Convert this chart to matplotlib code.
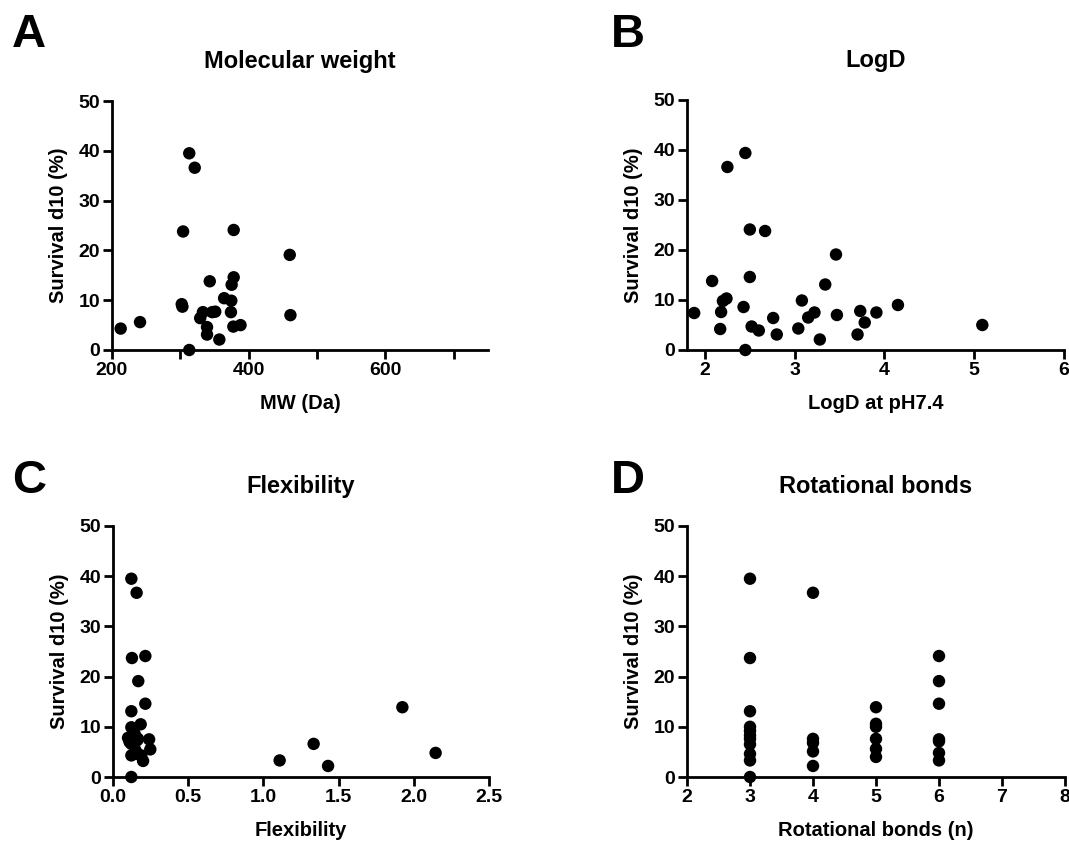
import matplotlib
matplotlib.use("Agg")
import matplotlib.pyplot as plt
from matplotlib.ticker import MultipleLocator

plt.rcParams['font.family'] = ['Liberation Sans', 'DejaVu Sans']
plt.rcParams['font.weight'] = 'bold'

# panel A - molecular weight
mw_x = [212.7, 241, 313, 321, 304, 378, 460, 302, 303, 343, 378, 375, 364, 374.5,
        374, 351, 346.6, 333, 329, 339, 339, 357, 313, 377.5, 388, 461]
mw_y = [4.3, 5.6, 39.5, 36.6, 23.8, 24.1, 19.1, 9.2, 8.7, 13.8, 14.6, 13.1, 10.4, 9.9,
        7.6, 7.7, 7.6, 7.6, 6.4, 4.6, 3.1, 2.1, 0.0, 4.7, 5.0, 7.0]

# panel B - logD
logd_x = [1.88, 2.08, 2.17, 2.18, 2.20, 2.24, 2.25, 2.45, 2.43, 2.45, 2.50, 2.50, 2.52,
          2.60, 2.67, 2.76, 2.80, 3.04, 3.08, 3.15, 3.22, 3.28, 3.34, 3.46, 3.47, 3.70,
          3.73, 3.78, 3.91, 4.15, 5.09]
logd_y = [7.4, 13.8, 4.2, 7.6, 9.8, 10.3, 36.6, 39.4, 8.6, 0.0, 24.1, 14.6, 4.7,
          3.9, 23.8, 6.4, 3.1, 4.3, 9.9, 6.5, 7.5, 2.1, 13.1, 19.1, 7.0, 3.1,
          7.8, 5.5, 7.5, 9.0, 5.0]

# panel C - flexibility
flex_x = [0.122, 0.157, 0.126, 0.215, 0.168, 0.215, 0.122, 0.184, 0.122, 0.10, 0.144,
          0.166, 0.122, 0.24, 0.248, 0.122, 0.15, 0.188, 0.20, 0.122, 0.133, 0.16,
          0.11, 0.16, 1.108, 1.334, 1.43, 1.924, 2.145]
flex_y = [39.5, 36.7, 23.7, 24.1, 19.1, 14.6, 13.1, 10.5, 9.9, 7.8, 8.6,
          7.6, 6.6, 7.5, 5.5, 4.3, 5.3, 4.3, 3.2, 0.0, 8.6, 7.3,
          7.0, 4.6, 3.3, 6.6, 2.2, 13.9, 4.8]

# panel D - rotational bonds
rot_x = [3, 3, 3, 3, 3, 3, 3, 3, 3, 3, 3,
         4, 4, 4, 4, 4,
         5, 5, 5, 5, 5, 5,
         6, 6, 6, 6, 6, 6, 6]
rot_y = [39.5, 23.7, 13.1, 10.0, 9.2, 8.3, 7.6, 6.5, 4.6, 3.3, 0.0,
         36.7, 7.6, 6.8, 5.1, 2.2,
         13.9, 10.6, 10.0, 7.6, 5.6, 4.0,
         24.1, 19.1, 14.6, 7.5, 7.1, 4.8, 3.3]

W, H = 1069, 843
fig = plt.figure(figsize=(W / 100, H / 100), dpi=100)


def make_ax(left, top, right, bottom):
    return fig.add_axes([left / W, 1 - bottom / H, (right - left) / W, (bottom - top) / H])


def style(ax, x, y, xlim, title, xlabel, width_px):
    ax.scatter(x, y, s=80, color='black', edgecolors='none', clip_on=False, zorder=3)
    ax.set_xlim(xlim)
    ax.set_ylim(0, 50)
    ax.yaxis.set_major_locator(MultipleLocator(10))
    for s in ['top', 'right']:
        ax.spines[s].set_visible(False)
    for s in ['left', 'bottom']:
        ax.spines[s].set_linewidth(2)
    ax.tick_params(which='both', direction='out', length=6.5, width=2,
                   labelsize=14, pad=2)
    for lab in ax.get_xticklabels() + ax.get_yticklabels():
        lab.set_fontweight('bold')
    ax.set_title(title, fontsize=17, fontweight='bold', pad=24)
    ax.set_xlabel(xlabel, fontsize=14.5, fontweight='bold')
    ax.set_ylabel('Survival d10 (%)', fontsize=14.5, fontweight='bold')
    ax.yaxis.set_label_coords(-44 / width_px, 0.5)
    ax.xaxis.set_label_coords(0.5, -0.175)


axA = make_ax(112, 101, 488, 350)
style(axA, mw_x, mw_y, (200, 750), 'Molecular weight', 'MW (Da)', 376)
axA.xaxis.set_major_locator(MultipleLocator(200))
axA.xaxis.set_minor_locator(MultipleLocator(100))

axB = make_ax(687, 100, 1064, 350)
style(axB, logd_x, logd_y, (1.8, 6), 'LogD', 'LogD at pH7.4', 377)
axB.set_xticks([2, 3, 4, 5, 6])

axC = make_ax(113, 526, 489, 777)
style(axC, flex_x, flex_y, (0, 2.5), 'Flexibility', 'Flexibility', 376)
axC.xaxis.set_major_locator(MultipleLocator(0.5))
axC.xaxis.set_major_formatter(lambda v, p: f'{v:.1f}')

axD = make_ax(687, 526, 1065, 777)
style(axD, rot_x, rot_y, (2, 8), 'Rotational bonds', 'Rotational bonds (n)', 378)
axD.set_xticks(range(2, 9))

for lab, (px, py) in zip('ABCD', [(12, 47), (611, 47), (12, 493), (611, 493)]):
    fig.text(px / W, 1 - py / H, lab, fontsize=34, fontweight='bold',
             ha='left', va='baseline')

plt.savefig('out.png', dpi=100)
